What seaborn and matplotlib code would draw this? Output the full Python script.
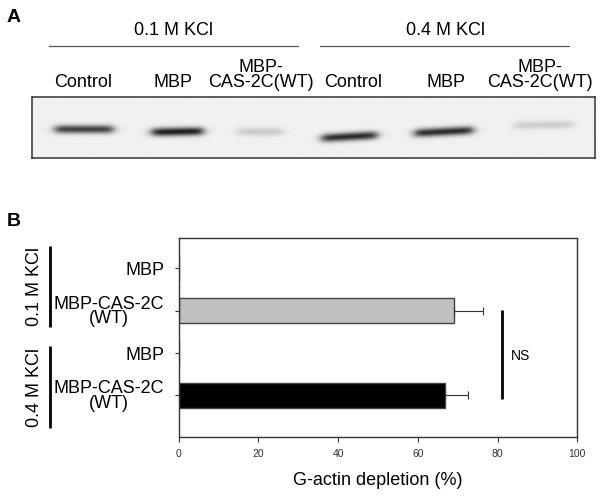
import numpy as np
import pandas as pd
import matplotlib
matplotlib.use("Agg")
import matplotlib.pyplot as plt
import seaborn as sns

sns.set_style("white")
plt.rcParams["font.family"] = ["Liberation Sans", "DejaVu Sans"]
plt.rcParams["text.color"] = "black"
plt.rcParams["axes.labelcolor"] = "black"
plt.rcParams["xtick.color"] = "black"
plt.rcParams["ytick.color"] = "black"

# ---------------- data ----------------
salt_groups = ["0.1 M KCl", "0.4 M KCl"]
lane_labels = ["Control", "MBP", "MBP-\nCAS-2C(WT)", "Control", "MBP", "MBP-\nCAS-2C(WT)"]
band_intensity = [0.70, 0.84, 0.15, 0.78, 0.78, 0.14]

bar_ids = ["0.1 MBP", "0.1 CAS", "0.4 MBP", "0.4 CAS"]
bar_labels = ["MBP", "MBP-CAS-2C\n(WT)", "MBP", "MBP-CAS-2C\n(WT)"]
depletion = [0.0, 69.1, 0.0, 66.9]
depletion_err = [0.0, 7.2, 0.0, 5.8]
bar_colors = ["#ffffff", "#c0c0c0", "#ffffff", "#000000"]
x_ticks = [0, 20, 40, 60, 80, 100]
sig_label = "NS"
x_label = "G-actin depletion (%)"

# ---------------- layout (pixels) ----------------
W, H = 603, 498
lane_label_x = [83.5, 173, 260.5, 353, 446, 540]
band_x = [84, 177.5, 260.5, 349.5, 444, 544]
band_y = [129.3, 131.7, 131.7, 136.7, 131.7, 125.0]
band_w = [58, 51, 45, 55, 58, 58]
band_tilt = [0, -1, 0, -3, -3, -1]
gel_box = (32, 595, 97, 158)

fig = plt.figure(figsize=(W / 100, H / 100), dpi=100)

# overlay in pixel coordinates
ov = fig.add_axes([0, 0, 1, 1])
ov.set_xlim(0, W)
ov.set_ylim(H, 0)
ov.axis("off")

# ---------- panel A ----------
ov.text(7, 22, "A", fontsize=14, fontweight="bold", ha="left", va="baseline")
group_centers = [174, 445]
group_lines = [(49, 298), (320, 569)]
for name, cx, (x0, x1) in zip(salt_groups, group_centers, group_lines):
    ov.text(cx, 35, name, fontsize=13, ha="center", va="baseline")
    ov.plot([x0, x1], [46, 46], color="#555555", lw=0.9)
for lab, cx in zip(lane_labels, lane_label_x):
    ov.text(cx, 87, lab, fontsize=13, ha="center", va="baseline",
            multialignment="center", linespacing=0.82)

# gel image
gx0, gx1, gy0, gy1 = gel_box
gel = fig.add_axes([gx0 / W, 1 - gy1 / H, (gx1 - gx0) / W, (gy1 - gy0) / H])
xs = np.linspace(gx0, gx1, 1200)
ys = np.linspace(gy0, gy1, 160)
XX, YY = np.meshgrid(xs, ys)
img = np.full(XX.shape, 0.945)
for inten, cx, cy, bw, tilt in zip(band_intensity, band_x, band_y, band_w, band_tilt):
    left, right = cx - bw / 2, cx + bw / 2
    yc = cy + tilt * (XX - cx) / bw
    horiz = 1 / (1 + np.exp(-(XX - left) / 2.8)) * 1 / (1 + np.exp((XX - right) / 2.8))
    vert = np.exp(-((YY - yc) / 4.2) ** 2)
    img -= inten * horiz * vert
img = np.clip(img, 0, 1)
gel.imshow(img, cmap="gray", vmin=0, vmax=1, extent=(gx0, gx1, gy1, gy0),
           aspect="auto", interpolation="bilinear")
gel.set_xlim(gx0, gx1)
gel.set_ylim(gy1, gy0)
gel.set_xticks([])
gel.set_yticks([])
for s in gel.spines.values():
    s.set_color("#333333")
    s.set_linewidth(1.1)

# ---------- panel B ----------
ov.text(7, 226, "B", fontsize=14, fontweight="bold", ha="left", va="baseline")
side_groups = [(245.7, 327), (345.7, 428.3)]
for name, (y0, y1) in zip(salt_groups, side_groups):
    ov.plot([50, 50], [y0, y1], color="black", lw=2.0, solid_capstyle="butt")
    ov.text(34.5, (y0 + y1) / 2, name, fontsize=13, rotation=90, ha="center", va="center")

axb = fig.add_axes([178.7 / W, 1 - 437.3 / H, (577.3 - 178.7) / W, (437.3 - 238.3) / H])
df = pd.DataFrame({"id": bar_ids, "depletion": depletion})
sns.barplot(data=df, x="depletion", y="id", hue="id", order=bar_ids,
            palette=dict(zip(bar_ids, bar_colors)), legend=False, orient="h",
            width=0.6, edgecolor="#444444", linewidth=1.0, saturation=1,
            errorbar=None, ax=axb)
pos = np.arange(len(bar_ids))
dep = np.array(depletion)
err = np.array(depletion_err)
m = err > 0
axb.errorbar(dep[m], pos[m], xerr=[np.zeros(m.sum()), err[m]], fmt="none",
             ecolor="#333333", elinewidth=0.8, capsize=3.2, capthick=0.8)

axb.set_xlim(0, 100)
axb.set_ylim(3.99, -0.71)
axb.set_xticks(x_ticks)
axb.set_xticklabels([str(t) for t in x_ticks])
axb.set_yticks(pos)
axb.set_yticklabels(bar_labels, fontsize=13)
for t in axb.get_yticklabels():
    t.set_multialignment("center")
    t.set_linespacing(0.82)
axb.set_ylabel("")
axb.set_xlabel(x_label, fontsize=13, labelpad=9)
axb.tick_params(axis="x", labelsize=7.5, labelcolor="#333333", length=3.6,
                width=0.8, pad=5, direction="out", bottom=True, color="#333333")
axb.tick_params(axis="y", length=3, width=0.8, pad=7.5, direction="out",
                left=True, color="#333333", labelcolor="black")
for s in axb.spines.values():
    s.set_visible(True)
    s.set_color("#333333")
    s.set_linewidth(1.0)

# significance marker
axb.plot([81, 81], [0.98, 3.08], color="black", lw=2.0, solid_capstyle="butt")
axb.text(83.3, 2.07, sig_label, fontsize=10, ha="left", va="center")

fig.savefig("out.png", dpi=100)
